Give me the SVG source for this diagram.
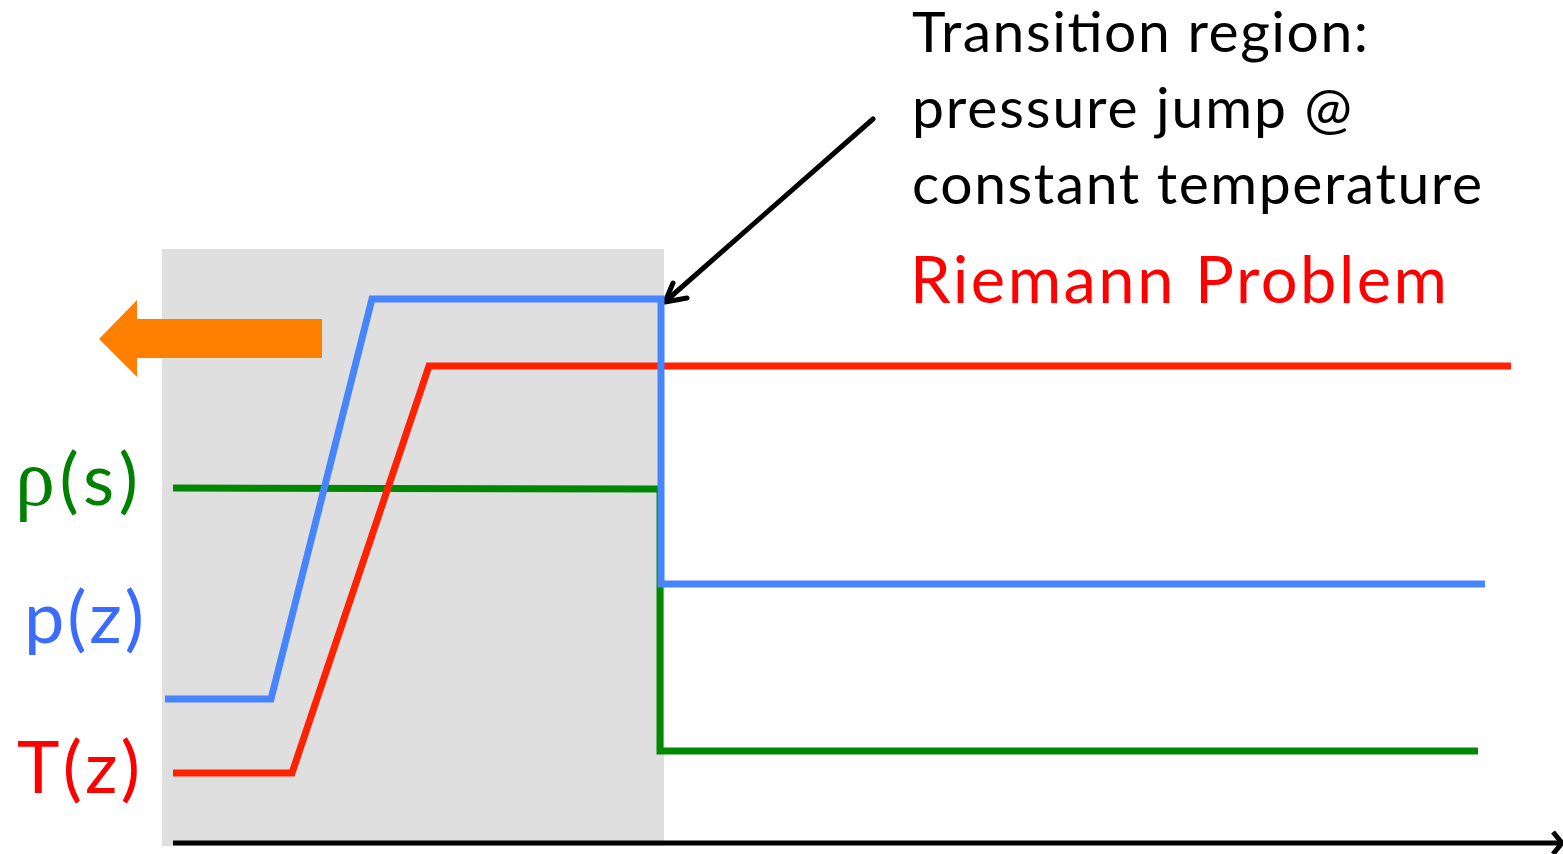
<svg xmlns="http://www.w3.org/2000/svg" width="1563" height="854" viewBox="0 0 1563 854">
<style>
.ln{fill:none;stroke-width:7;stroke-linejoin:miter;stroke-linecap:butt}
.txt{font-family:Lato,"Open Sans","Liberation Sans",sans-serif}
</style>
<rect width="1563" height="854" fill="#fff"/>
<g id="region"><rect x="162" y="249" width="502" height="597" fill="#dfdfdf"/></g>
<g id="connectors">
<polygon id="motion-arrow" points="99,339 137,300 137,319 322,319 322,358 137,358 137,377" fill="#ff7f00"/>
<line x1="173" y1="843" x2="1559" y2="843" stroke="#000" stroke-width="5"/>
<polyline points="1553,832 1562,843 1553,854" fill="none" stroke="#000" stroke-width="5"/>
<line x1="873" y1="119" x2="667" y2="300" stroke="#000" stroke-width="5" stroke-linecap="round"/>
<polyline points="673,283 665,302 687,298" fill="none" stroke="#000" stroke-width="5" stroke-linecap="round" stroke-linejoin="round"/>
</g>
<g id="rho-curve"><polyline class="ln" stroke="#008800" points="173,488 660,489 660,751 1478,751"/></g>
<g id="T-curve"><polyline class="ln" stroke="#ff2200" points="173,773 292,773 429,366 1511,366"/></g>
<g id="p-curve"><polyline class="ln" stroke="#4785ff" points="165,699 271,699 372,299 661,299 661,584 1485,584"/></g>
<g id="note" class="txt" font-size="57" fill="#000">
<text x="912" y="52" textLength="456">Transition region:</text>
<text x="912" y="128" textLength="440">pressure jump @</text>
<text x="912" y="204" textLength="570">constant temperature</text>
</g>
<g id="title"><text class="txt" x="910" y="303" font-size="65" fill="#ff0000" textLength="537">Riemann Problem</text></g>
<g id="label-rho"><text class="txt" x="15" y="505" font-size="72" fill="#008000" textLength="123"><tspan font-family="'Liberation Serif',serif" font-size="80">ρ</tspan>(s)</text></g>
<g id="label-p"><text class="txt" x="24" y="643" font-size="72" fill="#3b6cff" textLength="120">p(z)</text></g>
<g id="label-T"><text class="txt" x="17" y="793" font-size="72" fill="#ff0000" textLength="123">T(z)</text></g>
</svg>
